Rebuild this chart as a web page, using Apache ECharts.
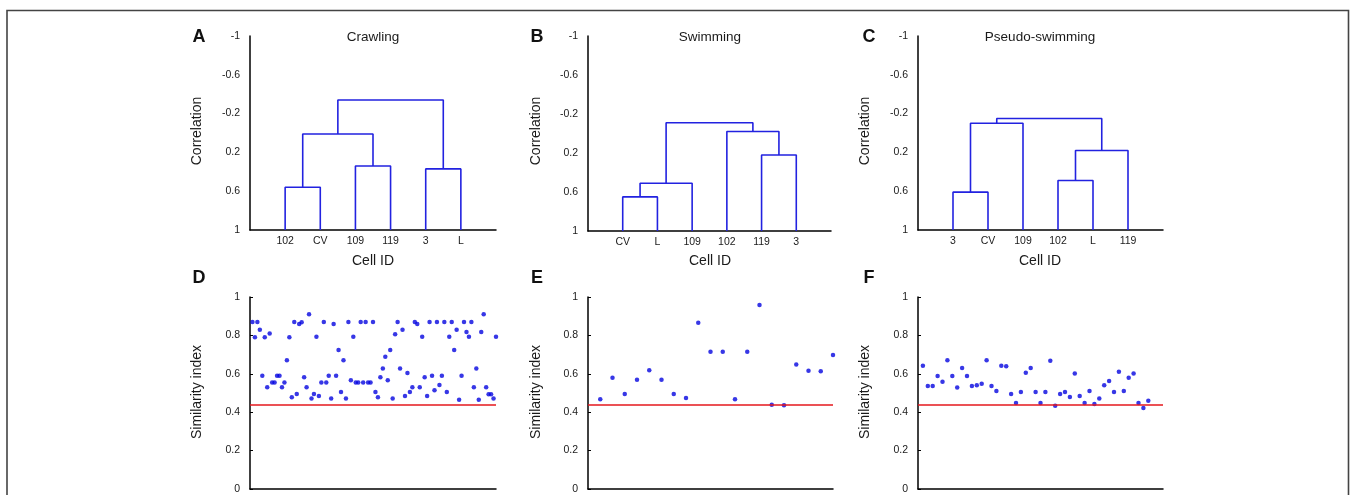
<!DOCTYPE html>
<html><head><meta charset="utf-8">
<script src="https://cdn.jsdelivr.net/npm/echarts@6/dist/echarts.min.js"></script>
<style>html,body{margin:0;padding:0;background:#fff}#c{width:1356px;height:495px}</style>
</head><body><div id="c"></div>
<script>
// ---------- DATA ----------
const panelTitles = ['Crawling', 'Swimming', 'Pseudo-swimming'];
const panelLetters = ['A', 'B', 'C', 'D', 'E', 'F'];

// Dendrogram leaf order (x axis category labels)
const crawlingLeaves = ['102', 'CV', '109', '119', '3', 'L'];
const swimmingLeaves = ['CV', 'L', '109', '102', '119', '3'];
const pseudoLeaves   = ['3', 'CV', '109', '102', 'L', '119'];

// Merges: [leftNode, rightNode, correlation height]; nodes < 6 are leaves, node 6+k is merge k
const crawlingMerges = [[0, 1, 0.56], [2, 3, 0.34], [4, 5, 0.37], [6, 7, 0.01], [8, 9, -0.34]];
const swimmingMerges = [[0, 1, 0.65], [6, 2, 0.51], [4, 5, 0.22], [3, 8, -0.02], [7, 9, -0.11]];
const pseudoMerges   = [[0, 1, 0.61], [6, 2, -0.10], [3, 4, 0.49], [8, 5, 0.18], [7, 9, -0.15]];

// Similarity index values
const crawlingSimilarity = [
  0.87, 0.79, 0.87, 0.83, 0.59, 0.79, 0.53, 0.81, 0.555, 0.555,
  0.59, 0.59, 0.53, 0.555, 0.67, 0.79, 0.478, 0.87, 0.495, 0.86,
  0.868, 0.582, 0.53, 0.91, 0.472, 0.495, 0.793, 0.484, 0.555, 0.87,
  0.555, 0.59, 0.472, 0.86, 0.59, 0.724, 0.505, 0.67, 0.472, 0.87,
  0.566, 0.793, 0.555, 0.555, 0.87, 0.555, 0.87, 0.555, 0.555, 0.87,
  0.505, 0.478, 0.582, 0.627, 0.689, 0.566, 0.724, 0.472, 0.806, 0.87,
  0.627, 0.83, 0.484, 0.604, 0.505, 0.53, 0.87, 0.86, 0.53, 0.793,
  0.582, 0.484, 0.87, 0.59, 0.514, 0.87, 0.542, 0.59, 0.87, 0.505,
  0.793, 0.87, 0.724, 0.83, 0.465, 0.59, 0.87, 0.818, 0.793, 0.87,
  0.53, 0.627, 0.465, 0.818, 0.91, 0.53, 0.493, 0.493, 0.472, 0.793
];
const swimmingSimilarity = [
  0.467, 0.58, 0.495, 0.569, 0.618, 0.569, 0.495, 0.474, 0.866, 0.715,
  0.715, 0.467, 0.715, 0.958, 0.439, 0.436, 0.649, 0.616, 0.613, 0.698
];
const pseudoSimilarity = [
  0.642, 0.536, 0.536, 0.589, 0.559, 0.670, 0.589, 0.528, 0.630, 0.589,
  0.536, 0.540, 0.548, 0.670, 0.536, 0.510, 0.642, 0.639, 0.495, 0.448,
  0.505, 0.606, 0.630, 0.505, 0.448, 0.505, 0.668, 0.434, 0.495, 0.505,
  0.479, 0.601, 0.484, 0.448, 0.510, 0.443, 0.472, 0.540, 0.5625, 0.505,
  0.611, 0.510, 0.580, 0.601, 0.448, 0.422, 0.460
];
const thresholdValue = 0.44;

// ---------- CHART ----------
const FONT = 'Liberation Sans, Arial, Helvetica, sans-serif';
const BLUE_LINE = '#2222e0';
const BLUE_DOT = '#0505e0';
const RED = '#e5171c';

const topGrids = [
  {left: 250, top: 36, width: 246, height: 194},
  {left: 588, top: 36, width: 243, height: 195},
  {left: 918, top: 36, width: 245, height: 194}
];
const botGrids = [
  {left: 250, top: 297, width: 246, height: 192},
  {left: 588, top: 297, width: 245, height: 192},
  {left: 918, top: 297, width: 245, height: 192}
];
const grids = topGrids.concat(botGrids);

const leavesList = [crawlingLeaves, swimmingLeaves, pseudoLeaves];
const mergesList = [crawlingMerges, swimmingMerges, pseudoMerges];
const simList = [crawlingSimilarity, swimmingSimilarity, pseudoSimilarity];

const xAxes = [], yAxes = [], series = [];
const fmt = v => String(+(+v).toFixed(2));

leavesList.forEach((leaves, p) => {
  xAxes.push({
    gridIndex: p, type: 'value', min: 0, max: leaves.length + 1, interval: 1,
    axisLine: {onZero: false, lineStyle: {color: '#000', width: 1.5}},
    axisTick: {show: false}, splitLine: {show: false},
    axisLabel: {margin: 6, fontFamily: FONT, fontSize: 10.5, color: '#1a1a1a',
      formatter: v => leaves[v - 1] || ''}
  });
  yAxes.push({
    gridIndex: p, type: 'value', inverse: true, min: -1, max: 1, interval: 0.4,
    axisLine: {onZero: false, lineStyle: {color: '#000', width: 1.5}},
    axisTick: {show: false}, splitLine: {show: false},
    axisLabel: {margin: 10, fontFamily: FONT, fontSize: 10.5, color: '#1a1a1a', formatter: fmt}
  });
  // build dendrogram
  const n = leaves.length;
  const nodeX = [], nodeH = [];
  for (let i = 0; i < n; i++) { nodeX.push(i + 1); nodeH.push(1); }
  mergesList[p].forEach(m => {
    const [a, b, h] = m;
    series.push({
      type: 'line', xAxisIndex: p, yAxisIndex: p, showSymbol: false, symbol: 'none',
      animation: false, silent: true,
      lineStyle: {color: BLUE_LINE, width: 1.6},
      data: [[nodeX[a], nodeH[a]], [nodeX[a], h], [nodeX[b], h], [nodeX[b], nodeH[b]]]
    });
    nodeX.push((nodeX[a] + nodeX[b]) / 2);
    nodeH.push(h);
  });
});

simList.forEach((vals, p) => {
  const gi = p + 3;
  xAxes.push({
    gridIndex: gi, type: 'value', min: 0, max: vals.length === 47 ? 50 : vals.length,
    axisLine: {onZero: false, lineStyle: {color: '#000', width: 1.5}},
    axisTick: {show: false}, axisLabel: {show: false}, splitLine: {show: false}
  });
  yAxes.push({
    gridIndex: gi, type: 'value', min: 0, max: 1, interval: 0.2,
    axisLine: {onZero: false, lineStyle: {color: '#000', width: 1.5}},
    axisTick: {show: true, inside: true, length: 3, lineStyle: {color: '#000', width: 1}},
    splitLine: {show: false},
    axisLabel: {margin: 10, fontFamily: FONT, fontSize: 10.5, color: '#1a1a1a', formatter: fmt}
  });
  series.push({
    type: 'scatter', xAxisIndex: gi, yAxisIndex: gi, symbolSize: 4.5, animation: false,
    itemStyle: {color: BLUE_DOT},
    data: vals.map((v, i) => [i + 1, v]),
    markLine: {
      silent: true, symbol: 'none', animation: false,
      label: {show: false},
      lineStyle: {color: RED, width: 1.5, type: 'solid'},
      data: [{yAxis: thresholdValue}]
    }
  });
});

const graphics = [];
// frame
graphics.push({type: 'rect', silent: true, z: -1,
  shape: {x: 7, y: 10.5, width: 1341.5, height: 600},
  style: {fill: 'none', stroke: '#444', lineWidth: 1.6}});
const letterPos = [[199, 37], [537, 37], [869, 37], [199, 278], [537, 278], [869, 278]];
panelLetters.forEach((l, i) => graphics.push({type: 'text', silent: true,
  x: letterPos[i][0], y: letterPos[i][1],
  style: {text: l, fontFamily: FONT, fontSize: 18, fontWeight: 'bold', fill: '#111',
    textAlign: 'center', textVerticalAlign: 'middle'}}));
const titleX = [373, 710, 1040];
panelTitles.forEach((t, i) => {
  graphics.push({type: 'text', silent: true, x: titleX[i], y: 37,
    style: {text: t, fontFamily: FONT, fontSize: 13.5, fill: '#1a1a1a', textAlign: 'center', textVerticalAlign: 'middle'}});
  graphics.push({type: 'text', silent: true, x: titleX[i], y: 261,
    style: {text: 'Cell ID', fontFamily: FONT, fontSize: 14, fill: '#1a1a1a', textAlign: 'center', textVerticalAlign: 'middle'}});
});
const yNameX = [197, 536, 865];
yNameX.forEach(x => {
  graphics.push({type: 'text', silent: true, x: x, y: 131, rotation: Math.PI / 2,
    style: {text: 'Correlation', fontFamily: FONT, fontSize: 14, fill: '#1a1a1a', textAlign: 'center', textVerticalAlign: 'middle'}});
  graphics.push({type: 'text', silent: true, x: x, y: 392, rotation: Math.PI / 2,
    style: {text: 'Similarity index', fontFamily: FONT, fontSize: 14, fill: '#1a1a1a', textAlign: 'center', textVerticalAlign: 'middle'}});
});

const chart = echarts.init(document.getElementById('c'), null, {renderer: 'canvas'});
chart.setOption({
  backgroundColor: '#fff',
  animation: false,
  grid: grids,
  xAxis: xAxes,
  yAxis: yAxes,
  series: series,
  graphic: graphics
});
</script></body></html>
